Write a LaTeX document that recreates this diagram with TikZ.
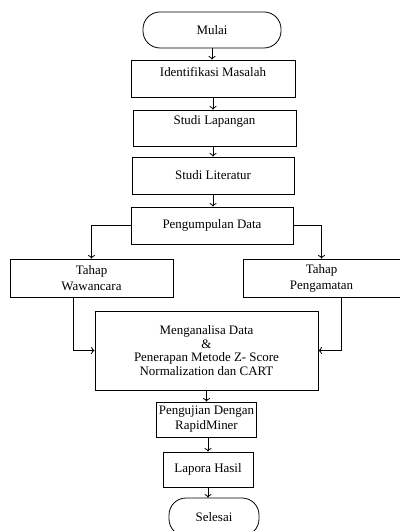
\documentclass[tikz,border=0pt]{standalone}
\usepackage{fontspec}
\setmainfont{Liberation Serif}
\usepackage{tikz}
\usetikzlibrary{arrows.meta}

\tikzset{
  kotak/.style={draw, rectangle, inner sep=2bp, align=center},
  mulaiselesai/.style={draw, rectangle, rounded corners=17bp, align=center},
  panah/.style={-{To[length=3.5bp,width=7bp]}}
}

\begin{document}
\begin{tikzpicture}[x=1bp,y=-1bp,line width=0.8bp,font=\fontsize{13}{16}\selectfont]
\useasboundingbox (0,0) rectangle (399,531);
\node[mulaiselesai, minimum width=138bp, minimum height=36bp] (mulai) at (212,30) {Mulai};
\node[kotak, minimum width=164bp, minimum height=37bp, text height=9bp, text depth=12bp] (identifikasi) at (213,78.5) {Identifikasi Masalah};
\node[kotak, minimum width=163bp, minimum height=36bp, text height=9bp, text depth=16bp] (lapangan) at (214.5,128) {Studi Lapangan};
\node[kotak, minimum width=162bp, minimum height=37bp] (literatur) at (213,175.5) {Studi Literatur};
\node[kotak, minimum width=162bp, minimum height=37bp] (kumpul) at (212,225.5) {Pengumpulan Data};
\node[kotak, minimum width=163bp, minimum height=38bp] (wawancara) at (91.5,278) {Tahap\\ Wawancara};
\node[kotak, minimum width=157bp, minimum height=38bp] (pengamatan) at (321.5,278) {Tahap\\ Pengamatan};
\node[kotak, minimum width=223bp, minimum height=79bp, font=\fontsize{13}{13.5}\selectfont] (analisa) at (206.5,350.5) {Menganalisa Data\\ \&\\ Penerapan Metode Z- Score\\ Normalization dan CART};
\node[kotak, minimum width=99bp, minimum height=35bp, font=\fontsize{13}{15}\selectfont] (pengujian) at (206.5,419.5) {Pengujian Dengan\\ RapidMiner};
\node[kotak, minimum width=90bp, minimum height=35bp] (laporan) at (208,469.5) {Lapora Hasil};
\node[mulaiselesai, minimum width=90bp, minimum height=38bp] (selesai) at (214,517) {Selesai};
\coordinate (wkiri) at (73,350);
\coordinate (pkanan) at (341,350);

\draw[panah] (mulai) -- (mulai |- identifikasi.north);
\draw[panah] (identifikasi.south) -- (identifikasi.south |- lapangan.north);
\draw[panah] (literatur.north |- lapangan.south) -- (literatur.north);
\draw[panah] (literatur.south) -- (literatur.south |- kumpul.north);
\draw[panah] (kumpul.west) -| (wawancara.north);
\draw[panah] (kumpul.east) -| (pengamatan.north);
\draw[panah] (wawancara.south -| wkiri) |- (analisa.west);
\draw[panah] (pengamatan.south -| pkanan) |- (analisa.east);
\draw[panah] (pengujian.north |- analisa.south) -- (pengujian.north);
\draw[panah] (laporan.north |- pengujian.south) -- (laporan.north);
\draw[panah] (laporan.south) -- (laporan.south |- selesai.north);
\end{tikzpicture}
\end{document}
